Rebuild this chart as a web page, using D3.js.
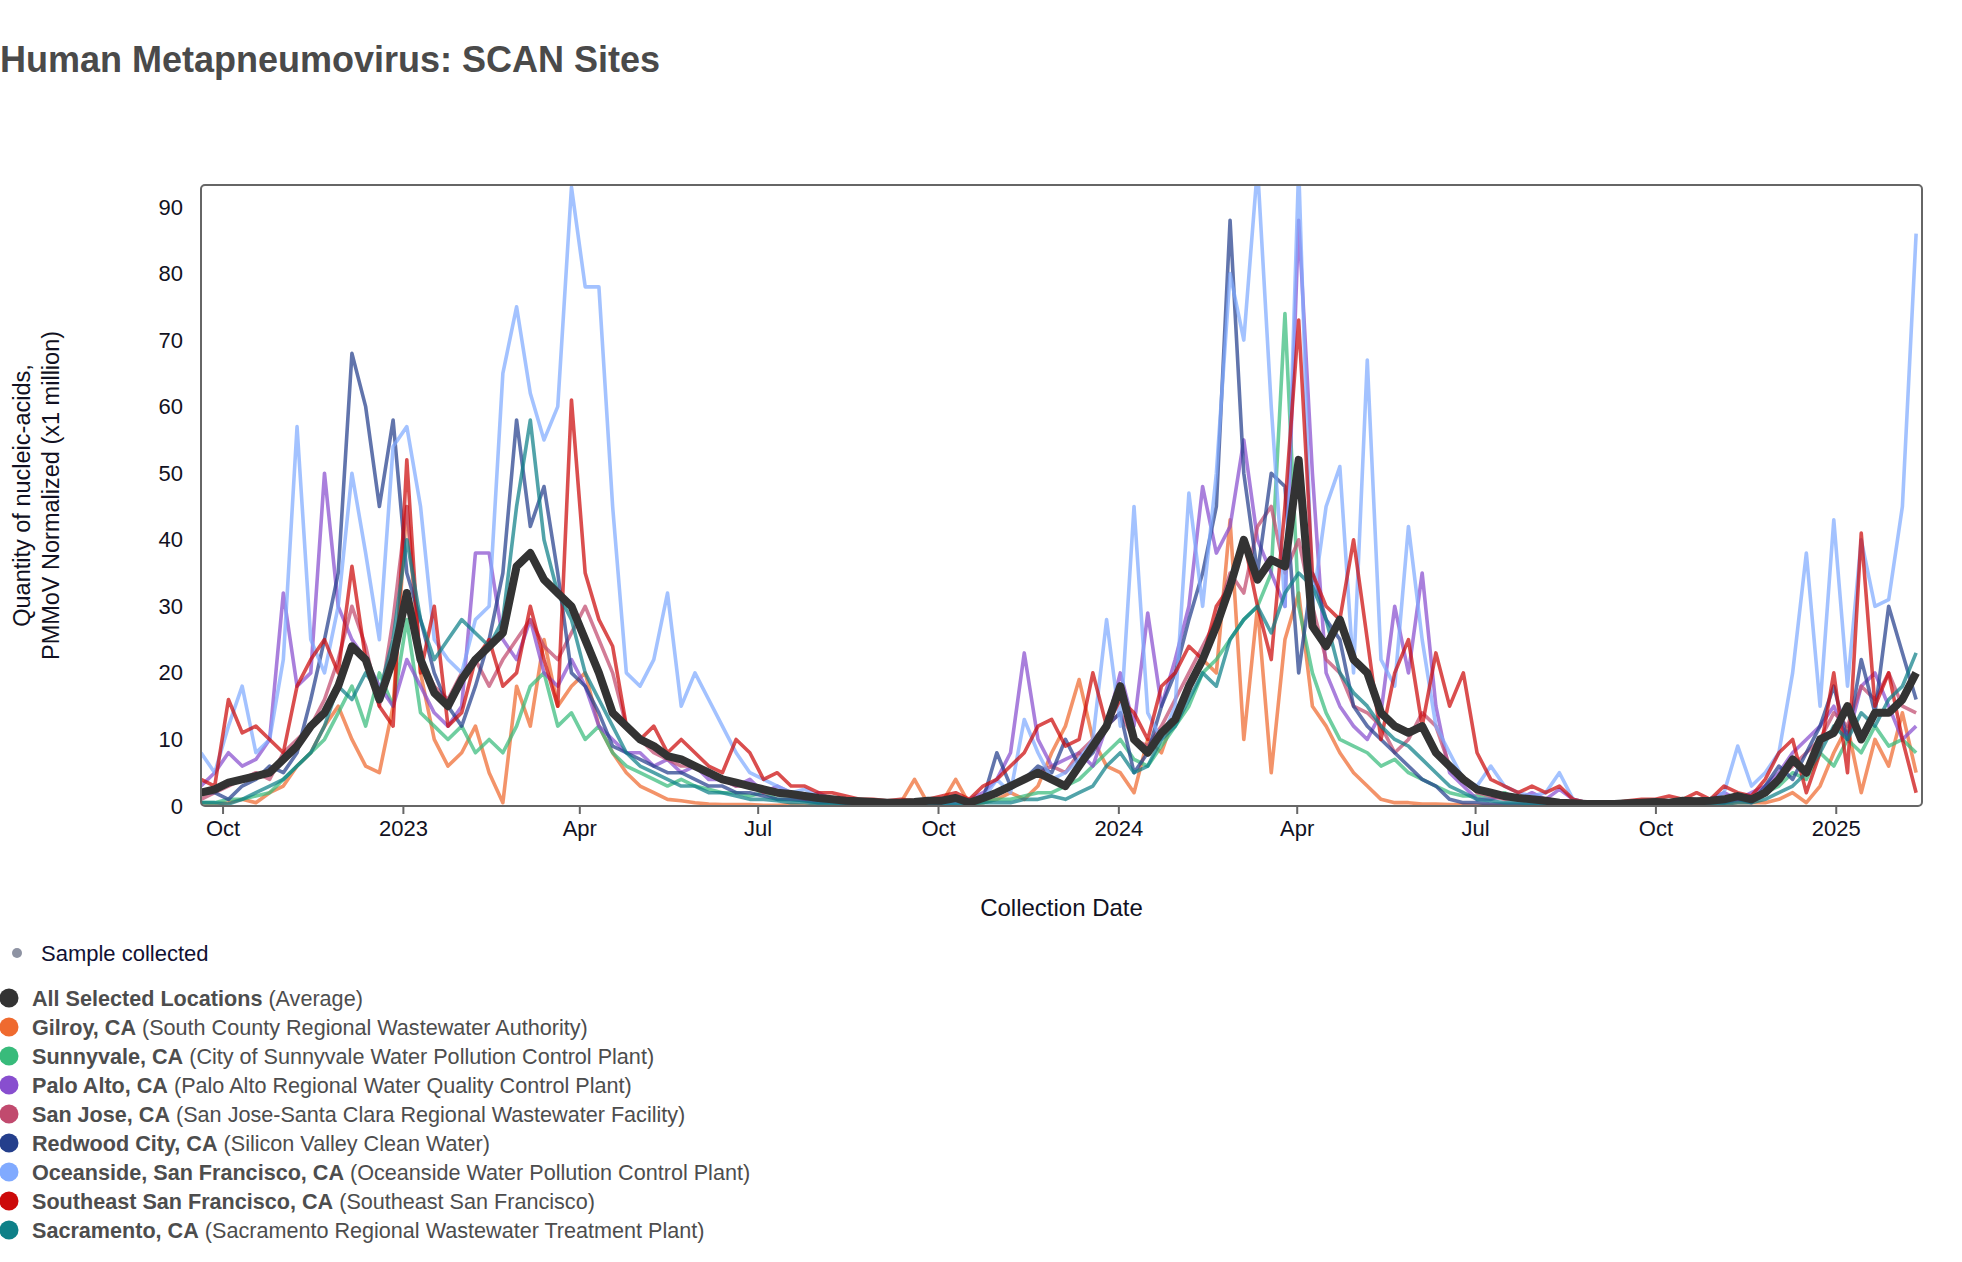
<!DOCTYPE html>
<html>
<head>
<meta charset="utf-8">
<script src="https://cdn.jsdelivr.net/npm/d3@7"></script>
<style>
  body { margin: 0; background: #fff; font-family: "Liberation Sans", Arial, Helvetica, sans-serif; }
  svg text { font-family: "Liberation Sans", Arial, Helvetica, sans-serif; }
</style>
</head>
<body>
<svg id="chart" width="1962" height="1262"></svg>
<script>
// weekly sample dates, starting 20 Sep 2022
var startDate = new Date(2022, 8, 20);
var dates = d3.range(126).map(i => d3.timeDay.offset(startDate, 7 * i));

var gilroy = [0.5,0.3,0.5,1,0.5,2,3,6,8,12,15,10,6,5,15,45,20,10,6,8,12,5,0.5,18,12,25,15,18,20,12,8,5,3,2,1,0.8,0.5,0.3,0.2,0.2,0.2,0.1,0.1,0.2,0.1,0.1,0.1,0.1,0.1,0.2,0.3,0.5,4,0.3,0.5,4,0.3,0.5,1,2,1,3,8,12,19,10,6,5,2,10,8,14,18,22,20,43,10,30,5,25,32,15,12,8,5,3,1,0.5,0.5,0.3,0.3,0.2,0.2,0.1,0.1,0.1,0.1,0.1,0.1,0.1,0.1,0.1,0.1,0.1,0.1,0.1,0.2,0.2,0.2,0.3,0.3,0.3,0.5,0.5,0.5,1,2,0.5,3,8,12,2,10,6,14,5];
var sunnyvale = [0.5,0.5,1,1,1.5,2,4,6,8,10,14,18,12,20,15,28,14,12,10,12,8,10,8,12,18,20,12,14,10,12,8,6,5,4,3,4,3,2.5,2,2,1.5,2,1,1,0.8,0.5,0.5,0.5,0.5,0.3,0.3,0.3,0.5,0.3,0.3,0.3,0.5,0.5,1,1,1.5,2,2,3,4,6,8,10,7,6,9,12,15,20,22,25,28,30,35,74,30,20,14,10,9,8,6,7,5,4,3,2,1.5,1.5,1,2,1,0.8,0.5,0.3,0.3,0.2,0.2,0.2,0.2,0.2,0.3,0.3,0.3,0.5,0.5,0.5,0.8,1,2,3,5,4,8,6,10,8,12,9,10,8];
var paloAlto = [3,5,8,6,7,10,32,18,20,50,30,25,22,18,15,22,18,14,12,15,38,38,25,22,28,20,18,22,18,12,10,8,8,6,7,5,6,4,4,3,4,2,3,2,1,2,1,0.5,0.5,0.3,0.3,0.5,0.5,0.5,0.5,0.5,1,2,4,8,23,10,6,7,8,6,12,20,12,29,15,22,30,48,38,42,55,40,35,30,88,50,20,15,12,10,14,30,20,35,15,5,3,1,1,1.5,1,2,1,2.5,1,0.5,0.3,0.3,0.3,0.3,0.3,0.5,0.5,0.8,1,2,1,2,3,5,8,10,12,15,10,18,20,15,10,12];
var sanJose = [1,2,3,4,5,4,8,10,12,16,22,30,24,15,28,45,22,18,16,20,22,18,22,25,28,24,22,26,30,25,20,12,10,8,7,6,6,5,4,3,3,2,2,1.5,1,1,0.8,0.5,0.5,0.5,0.5,0.5,0.5,0.8,1,1,0.8,1.5,2,3,4,5,6,5,8,10,12,14,10,9,12,16,20,24,28,35,32,42,45,35,40,30,22,20,15,14,12,8,10,14,12,6,4,2,1.5,1,1,0.8,0.5,0.5,0.3,0.3,0.3,0.3,0.3,0.3,0.3,0.3,0.5,0.5,0.5,0.5,0.8,1,2,4,6,8,10,14,12,18,16,20,15,14];
var redwoodCity = [2,2,1,3,4,6,5,8,16,25,35,68,60,45,58,35,28,20,15,12,18,25,35,58,42,48,35,20,18,14,9,8,7,6,5,5,4,3,3,2,2,1.5,1,1,0.8,0.5,0.5,0.4,0.3,0.3,0.3,0.3,0.3,0.3,0.5,0.5,0.5,1,8,3,4,6,5,10,6,8,12,14,5,8,15,20,28,35,45,88,50,35,50,48,20,35,28,25,15,12,10,8,6,4,3,1,0.5,0.5,0.3,0.3,0.3,0.3,0.2,0.2,0.2,0.2,0.2,0.2,0.2,0.2,0.3,0.3,0.5,0.3,0.5,0.5,1,0.5,3,6,4,8,12,18,10,22,14,30,23,16];
var oceanside = [8,5,12,18,8,10,22,57,25,20,30,50,38,25,54,57,45,25,22,20,28,30,65,75,62,55,60,93,78,78,45,20,18,22,32,15,20,16,12,8,5,4,3,2,2.5,1.5,1,1,0.5,0.5,0.3,0.5,0.5,0.4,0.5,0.5,0.5,1,4,2,13,8,4,5,7,10,28,12,45,14,10,15,47,30,50,80,70,96,60,30,96,30,45,51,20,67,22,18,42,25,12,8,4,3,6,3,2,1.5,2,5,1,0.5,0.3,0.3,0.3,0.4,0.5,0.5,0.5,1,1,2,9,3,5,8,20,38,15,43,18,40,30,31,45,86];
var southeastSF = [4,3,16,11,12,10,8,18,22,25,20,36,22,15,12,52,20,30,12,14,22,25,18,20,30,22,15,61,35,28,24,12,10,12,8,10,8,6,5,10,8,4,5,3,3,2,2,1.5,1,1,0.8,1,0.8,1,1.5,2,1,3,4,6,8,12,13,9,10,20,12,16,14,10,18,20,24,22,30,33,40,30,22,45,73,35,30,28,40,25,10,20,25,12,23,15,20,8,4,3,2,3,2,3,1,0.5,0.5,0.5,0.8,1,1,1.5,1,2,1,3,2,1.5,4,8,10,2,8,20,5,41,15,20,10,2];
var sacramento = [0.5,0.5,0.3,1,2,3,4,6,8,12,18,16,20,17,25,40,28,22,25,28,26,24,28,45,58,40,32,28,20,16,12,8,6,5,4,3,3,2,2,1.5,1,1,0.8,0.5,0.5,0.3,0.3,0.3,0.2,0.2,0.2,0.2,0.2,0.3,0.3,0.3,0.3,0.5,0.5,0.5,1,1,1.5,1,2,3,6,8,5,6,10,12,16,20,18,25,28,30,26,32,35,33,28,20,17,15,12,10,9,7,5,3,2,1,0.8,0.5,0.5,0.3,0.3,0.3,0.2,0.2,0.2,0.2,0.2,0.2,0.2,0.3,0.3,0.3,0.3,0.3,0.5,0.5,1,2,3,5,8,12,10,14,12,16,18,23];
var average = [2,2.5,3.5,4,4.5,5,7,9,12,14,18,24,22,16,22,32,22,17,15,19,22,24,26,36,38,34,32,30,25,20,14,12,10,9,7.5,7,6,5,4,3.5,3,2.5,2,1.8,1.5,1.2,1,0.8,0.7,0.6,0.5,0.5,0.6,0.8,0.8,1.2,0.5,1.2,2,3,4,5,4,3,6,9,12,18,10,8,11,13,18,22,27,33,40,34,37,36,52,27,24,28,22,20,14,12,11,12,8,6,4,2.5,2,1.5,1.2,1,0.8,0.5,0.4,0.3,0.3,0.3,0.4,0.5,0.6,0.5,0.8,0.7,0.8,1,1.5,1,2,4,7,5,10,11,15,10,14,14,16,20];

var yTicks = [0, 10, 20, 30, 40, 50, 60, 70, 80, 90];

var sites = [
  { name: 'Gilroy, CA', plant: 'South County Regional Wastewater Authority', color: '#ef6a2f', values: gilroy },
  { name: 'Sunnyvale, CA', plant: 'City of Sunnyvale Water Pollution Control Plant', color: '#38bb7b', values: sunnyvale },
  { name: 'Palo Alto, CA', plant: 'Palo Alto Regional Water Quality Control Plant', color: '#884ecf', values: paloAlto },
  { name: 'San Jose, CA', plant: 'San Jose-Santa Clara Regional Wastewater Facility', color: '#c14a6e', values: sanJose },
  { name: 'Redwood City, CA', plant: 'Silicon Valley Clean Water', color: '#243f8c', values: redwoodCity },
  { name: 'Oceanside, San Francisco, CA', plant: 'Oceanside Water Pollution Control Plant', color: '#80aaff', values: oceanside },
  { name: 'Southeast San Francisco, CA', plant: 'Southeast San Francisco', color: '#cc0a0a', values: southeastSF },
  { name: 'Sacramento, CA', plant: 'Sacramento Regional Wastewater Treatment Plant', color: '#0e8088', values: sacramento }
];

var svg = d3.select('#chart');
var plot = { left: 201, right: 1922, top: 185, bottom: 806 };

var x = d3.scaleTime()
  .domain([new Date(2022, 8, 20), new Date(2025, 1, 14)])
  .range([plot.left, plot.right]);
var y = d3.scaleLinear()
  .domain([0, 93.3])
  .range([plot.bottom, plot.top]);

// title
svg.append('text')
  .attr('x', 0)
  .attr('y', 72)
  .attr('font-size', 36)
  .attr('font-weight', 'bold')
  .attr('fill', '#4a4a4a')
  .text('Human Metapneumovirus: SCAN Sites');

svg.append('clipPath').attr('id', 'clip')
  .append('rect')
    .attr('x', plot.left)
    .attr('y', plot.top)
    .attr('width', plot.right - plot.left)
    .attr('height', plot.bottom - plot.top);

var line = d3.line()
  .x((d, i) => x(dates[i]))
  .y(d => y(d));

var lines = svg.append('g').attr('clip-path', 'url(#clip)');

lines.selectAll('path.site')
  .data(sites)
  .enter()
  .append('path')
    .attr('class', 'site')
    .attr('d', d => line(d.values))
    .attr('fill', 'none')
    .attr('stroke', d => d.color)
    .attr('stroke-width', 3.6)
    .attr('stroke-opacity', 0.72)
    .attr('stroke-linejoin', 'round');

lines.append('path')
  .attr('d', line(average))
  .attr('fill', 'none')
  .attr('stroke', '#333333')
  .attr('stroke-width', 8)
  .attr('stroke-linejoin', 'round');

// frame
svg.append('rect')
  .attr('x', plot.left)
  .attr('y', plot.top)
  .attr('width', plot.right - plot.left)
  .attr('height', plot.bottom - plot.top)
  .attr('rx', 4)
  .attr('fill', 'none')
  .attr('stroke', '#666')
  .attr('stroke-width', 2);

// x axis
var fmt = d => d.getMonth() === 0 ? d3.timeFormat('%Y')(d) : d3.timeFormat('%b')(d);
var xAxis = svg.append('g')
  .attr('transform', 'translate(0,' + plot.bottom + ')')
  .call(d3.axisBottom(x).ticks(d3.timeMonth.every(3)).tickFormat(fmt).tickSize(8).tickPadding(6));
xAxis.select('.domain').remove();
xAxis.selectAll('line').attr('stroke', '#666').attr('stroke-width', 2);
xAxis.selectAll('text')
  .attr('font-size', 22)
  .attr('fill', '#111122');

// y axis
var yAxis = svg.append('g')
  .attr('transform', 'translate(' + plot.left + ',0)')
  .call(d3.axisLeft(y).tickValues(yTicks).tickSize(0).tickPadding(18));
yAxis.select('.domain').remove();
yAxis.selectAll('text')
  .attr('font-size', 22)
  .attr('fill', '#111122');

// axis titles
svg.append('text')
  .attr('x', (plot.left + plot.right) / 2)
  .attr('y', 916)
  .attr('text-anchor', 'middle')
  .attr('font-size', 24)
  .attr('fill', '#111122')
  .text('Collection Date');

var yTitle = svg.append('text')
  .attr('transform', 'translate(0,' + (plot.top + plot.bottom) / 2 + ') rotate(-90)')
  .attr('text-anchor', 'middle')
  .attr('font-size', 23.5)
  .attr('fill', '#111122');
yTitle.append('tspan').attr('x', 0).attr('y', 30).text('Quantity of nucleic-acids,');
yTitle.append('tspan').attr('x', 0).attr('y', 59).text('PMMoV Normalized (x1 million)');

// legend
svg.append('circle')
  .attr('cx', 17).attr('cy', 953).attr('r', 5)
  .attr('fill', '#8e93a3');
svg.append('text')
  .attr('x', 41).attr('y', 953).attr('dy', '0.35em')
  .attr('font-size', 22)
  .attr('fill', '#111133')
  .text('Sample collected');

var legendItems = [{ name: 'All Selected Locations', plant: 'Average', color: '#333333' }].concat(sites);

var item = svg.selectAll('g.legend')
  .data(legendItems)
  .enter()
  .append('g')
    .attr('class', 'legend')
    .attr('transform', (d, i) => 'translate(0,' + (998 + i * 29) + ')');

item.append('circle')
  .attr('cx', 9)
  .attr('r', 9.5)
  .attr('fill', d => d.color);

var label = item.append('text')
  .attr('x', 32)
  .attr('dy', '0.35em')
  .attr('font-size', 21.6)
  .attr('fill', '#4d4d4d');
label.append('tspan').attr('font-weight', 'bold').text(d => d.name);
label.append('tspan').text(d => ' (' + d.plant + ')');
</script>
</body>
</html>
